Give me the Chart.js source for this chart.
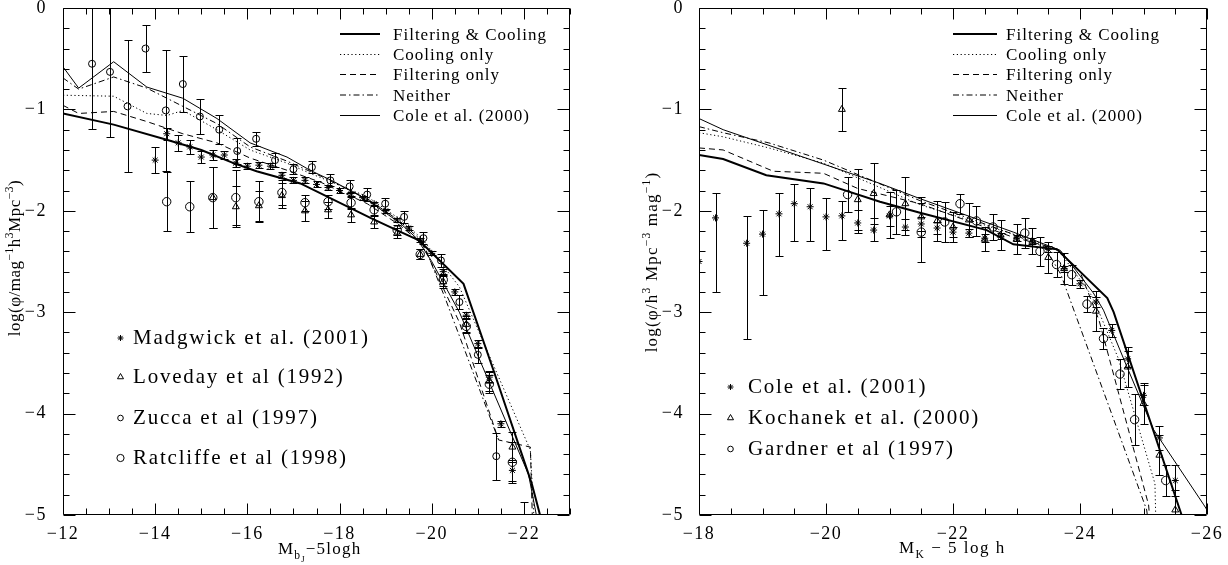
<!DOCTYPE html>
<html><head><meta charset="utf-8">
<script src="https://cdn.jsdelivr.net/npm/chart.js@4.4.1/dist/chart.umd.min.js"></script>
<style>
html,body{margin:0;padding:0;background:#fff;}
body{width:1228px;height:565px;overflow:hidden;position:relative;}
.panel{position:absolute;top:0;width:614px;height:565px;}
</style></head><body>
<div class="panel" style="left:0"><canvas id="cb"></canvas></div>
<div class="panel" style="left:614px"><canvas id="ck"></canvas></div>
<script>
// ================= DATA =================
// tick labels
const bXLabels = [-22, -20, -18, -16, -14, -12];
const kXLabels = [-26, -24, -22, -20, -18];
const yLabels  = [-5, -4, -3, -2, -1, 0];

// ---- Left panel (b_J band): model curves ----
const bFCX = [-12, -13.1, -14.25, -15.0, -15.7, -16.2, -17.15, -18.67, -19.24, -19.71, -19.9, -20.69, -21.36, -22.17, -22.35];
const bFCY = [-1.04, -1.15, -1.30, -1.40, -1.53, -1.61, -1.73, -2.07, -2.19, -2.29, -2.37, -2.72, -3.60, -4.69, -5.0];
const bCoolX = [-12, -13.1, -13.82, -14.26, -14.6, -15.34, -16.06, -16.86, -17.36, -18.6, -19.3, -19.8, -20.6, -22.14, -22.25];
const bCoolY = [-0.86, -0.87, -1.04, -1.06, -1.01, -1.20, -1.40, -1.53, -1.63, -1.86, -2.08, -2.28, -2.75, -4.36, -5.3];
const bFiltX = [-12, -12.34, -13.1, -13.82, -14.6, -15.34, -16.06, -16.86, -17.6, -18.6, -19.3, -19.8, -20.6, -21.45, -22.14, -22.2];
const bFiltY = [-0.96, -1.04, -1.02, -1.12, -1.24, -1.33, -1.48, -1.60, -1.72, -1.93, -2.14, -2.33, -3.10, -4.26, -4.33, -5.3];
const bNeitherX = [-12, -12.34, -13.1, -13.82, -14.6, -15.34, -16.06, -16.86, -17.6, -18.6, -19.3, -19.8, -20.29, -21.45];
const bNeitherY = [-0.69, -0.80, -0.68, -0.79, -0.97, -1.14, -1.37, -1.51, -1.66, -1.88, -2.10, -2.30, -2.86, -4.26];
const bColeX = [-12, -12.34, -13.1, -13.82, -14.6, -15.34, -16.06, -16.86, -17.36, -17.87, -18.59, -19.31, -19.67, -20.0, -20.6, -22.1, -22.27];
const bColeY = [-0.58, -0.79, -0.53, -0.78, -0.89, -1.09, -1.33, -1.47, -1.60, -1.71, -1.89, -2.12, -2.27, -2.50, -3.00, -4.60, -5.0];

// ---- Left panel: observational data ----
const bMadgwickX = [-14.0, -14.25, -14.5, -14.75, -15.0, -15.25, -15.5, -15.75, -16.0, -16.25, -16.5, -16.75, -17.0, -17.25, -17.5, -17.75, -18.0, -18.25, -18.5, -18.75, -19.0, -19.25, -19.5, -19.75, -20.0, -20.25, -20.5, -20.75, -21.0, -21.25, -21.5, -21.75, -22.0];
const bMadgwickY = [-1.50, -1.24, -1.33, -1.37, -1.47, -1.45, -1.45, -1.53, -1.56, -1.55, -1.56, -1.65, -1.70, -1.70, -1.74, -1.77, -1.80, -1.83, -1.87, -1.93, -2.00, -2.09, -2.17, -2.29, -2.42, -2.60, -2.80, -3.03, -3.31, -3.64, -4.10, -4.56, -5.30];
const bMadgwickErr = [0.13, 0.06, 0.08, 0.07, 0.06, 0.05, 0.04, 0.04, 0.03, 0.03, 0.03, 0.03, 0.03, 0.03, 0.03, 0.02, 0.02, 0.02, 0.02, 0.02, 0.02, 0.02, 0.02, 0.02, 0.02, 0.03, 0.03, 0.03, 0.04, 0.05, 0.03, 0.10, 0.43];
const bLovedayX = [-15.25, -15.75, -16.25, -16.75, -17.25, -17.75, -18.25, -18.75, -19.25, -19.75, -20.25, -20.75, -21.25, -21.75];
const bLovedayY = [-1.87, -1.96, -1.95, -1.85, -2.00, -1.99, -2.04, -2.11, -2.22, -2.43, -2.70, -3.12, -3.68, -4.33];
const bLovedayErr = [0.30, 0.20, 0.15, 0.12, 0.10, 0.08, 0.07, 0.06, 0.05, 0.05, 0.06, 0.08, 0.10, 0.15];
const bZuccaX = [-12.63, -13.02, -13.4, -13.79, -14.23, -14.6, -14.97, -15.39, -15.78, -16.19, -16.6, -17.0, -17.4, -17.8, -18.22, -18.6, -18.99, -19.4, -19.82, -20.2, -20.6, -21.0, -21.4];
const bZuccaY = [-0.55, -0.63, -0.97, -0.40, -1.01, -0.75, -1.07, -1.20, -1.41, -1.29, -1.50, -1.59, -1.57, -1.70, -1.76, -1.84, -1.93, -2.06, -2.27, -2.49, -2.90, -3.42, -4.42];
const bZuccaErr = [0.64, 0.64, 0.65, 0.23, 0.60, 0.28, 0.17, 0.14, 0.13, 0.07, 0.07, 0.05, 0.06, 0.06, 0.06, 0.06, 0.06, 0.06, 0.06, 0.06, 0.07, 0.08, 0.23];
const bRatcliffeX = [-14.25, -14.75, -15.25, -15.75, -16.25, -16.75, -17.25, -17.75, -18.25, -18.75, -19.25, -19.75, -20.25, -20.75, -21.25, -21.75];
const bRatcliffeY = [-1.91, -1.96, -1.87, -1.87, -1.91, -1.82, -1.92, -1.91, -1.92, -1.99, -2.19, -2.43, -2.68, -3.14, -3.71, -4.48];
const bRatcliffeErr = [0.29, 0.25, 0.30, 0.27, 0.20, 0.12, 0.08, 0.07, 0.06, 0.05, 0.05, 0.05, 0.06, 0.07, 0.09, 0.20];

// ---- Right panel (K band): model curves ----
const kFCX = [-18.0, -18.38, -19.06, -19.96, -20.85, -21.48, -22.53, -22.95, -23.64, -24.43, -24.53, -25.6];
const kFCY = [-1.45, -1.49, -1.65, -1.73, -1.91, -2.02, -2.19, -2.33, -2.38, -2.86, -3.0, -5.0];
const kCoolX = [-18.0, -18.38, -19.1, -19.96, -21.48, -22.9, -23.65, -24.2, -24.6, -25.18, -25.2];
const kCoolY = [-1.23, -1.27, -1.38, -1.53, -1.94, -2.22, -2.38, -2.85, -3.45, -4.69, -5.2];
const kFiltX = [-18.0, -18.38, -19.17, -19.96, -20.5, -21.48, -22.9, -23.6, -24.0, -24.3, -25.08, -25.12];
const kFiltY = [-1.38, -1.40, -1.61, -1.63, -1.78, -1.93, -2.25, -2.37, -2.60, -3.08, -4.90, -5.2];
const kNeitherX = [-18.0, -18.38, -19.1, -19.96, -21.48, -22.9, -23.45, -23.7, -25.05, -25.1];
const kNeitherY = [-1.17, -1.23, -1.33, -1.50, -1.90, -2.22, -2.36, -2.63, -4.95, -5.2];
const kColeX = [-18.0, -18.38, -20.85, -21.48, -22.95, -23.32, -23.69, -24.21, -24.37, -24.74, -25.16, -25.95, -26.05];
const kColeY = [-1.09, -1.20, -1.73, -1.88, -2.21, -2.30, -2.39, -2.81, -2.98, -3.54, -4.16, -4.90, -5.0];

// ---- Right panel: observational data ----
const kCole01X = [-18.0, -18.26, -18.75, -19.0, -19.26, -19.5, -19.75, -20.0, -20.25, -20.5, -20.75, -21.0, -21.25, -21.5, -21.75, -22.0, -22.25, -22.5, -22.75, -23.0, -23.25, -23.5, -23.75, -24.0, -24.25, -24.5, -24.75, -25.0, -25.25, -25.5];
const kCole01Y = [-2.50, -2.07, -2.32, -2.23, -2.03, -1.93, -1.96, -2.06, -2.05, -2.12, -2.19, -2.05, -2.16, -2.13, -2.17, -2.21, -2.22, -2.27, -2.25, -2.27, -2.30, -2.38, -2.57, -2.72, -2.90, -3.18, -3.46, -3.82, -4.24, -4.66];
const kCole01Up = [0, 0.25, 0.27, 0.24, 0.21, 0.19, 0.18, 0.19, 0.15, 0.13, 0.12, 0.10, 0.08, 0.07, 0.06, 0.05, 0.04, 0.04, 0.03, 0.03, 0.03, 0.03, 0.03, 0.04, 0.05, 0.06, 0.08, 0.10, 0.12, 0.15];
const kCole01Dn = [0, 0.73, 0.94, 0.60, 0.42, 0.37, 0.34, 0.33, 0.24, 0.10, 0.11, 0.10, 0.08, 0.07, 0.06, 0.05, 0.04, 0.04, 0.03, 0.03, 0.03, 0.03, 0.03, 0.04, 0.05, 0.06, 0.08, 0.10, 0.12, 0.15];
const kKochX = [-20.25, -20.5, -20.75, -21.0, -21.25, -21.5, -21.75, -22.0, -22.25, -22.5, -22.75, -23.0, -23.25, -23.5, -23.75, -24.25, -24.75, -25.0, -25.25, -25.5];
const kKochY = [-1.00, -1.89, -1.83, -2.04, -1.93, -2.06, -2.10, -2.16, -2.09, -2.28, -2.24, -2.28, -2.30, -2.46, -2.57, -2.99, -3.54, -3.90, -4.41, -4.95];
const kKochErr = [0.21, 0.30, 0.30, 0.23, 0.26, 0.20, 0.20, 0.15, 0.17, 0.12, 0.15, 0.15, 0.13, 0.15, 0.15, 0.20, 0.20, 0.20, 0.20, 0.20];
const kGardX = [-20.34, -21.11, -21.5, -21.87, -22.11, -22.37, -22.63, -23.13, -23.37, -23.63, -23.87, -24.11, -24.37, -24.63, -24.86, -25.35];
const kGardY = [-1.84, -2.01, -2.21, -2.11, -1.93, -2.10, -2.16, -2.22, -2.40, -2.53, -2.63, -2.92, -3.26, -3.61, -4.06, -4.66];
const kGardErr = [0.17, 0.22, 0.29, 0.20, 0.10, 0.15, 0.13, 0.15, 0.14, 0.12, 0.10, 0.08, 0.10, 0.15, 0.25, 0.15];

const modelNames = ['Filtering & Cooling', 'Cooling only', 'Filtering only', 'Neither', 'Cole et al. (2000)'];
const modelKeys  = ['fc', 'cool', 'filt', 'neither', 'cole'];

// ================= STYLES =================
const FONT = "'Liberation Serif','Times New Roman',serif";
const LINE_STYLES = {
  fc: {w: 2, dash: []},
  cool: {w: 1, dash: [1.2, 2.6]},
  filt: {w: 1, dash: [6, 4]},
  neither: {w: 1, dash: [6, 3, 1.5, 3]},
  cole: {w: 1, dash: []}
};
const POINT_STYLES = {
  star: {shape: 'star', r: 3.5, leg: 3},
  tri: {shape: 'triangle', r: 4, leg: 3.5},
  osmall: {shape: 'circle', r: 3.5, leg: 2.8},
  obig: {shape: 'circle', r: 4.2, leg: 3.6}
};

const fmt = v => Math.abs(v) < 1e-9 ? '0' : '\u2212' + Math.abs(v);
const pts = (xs, ys) => xs.map((x, i) => ({x: x, y: ys[i]}));
const has = (arr, v) => arr.some(a => Math.abs(a - v) < 1e-6);

function drawRich(ctx, parts, x, y, size, spacing) {
  const spec = {n: [1, 0], sup: [0.68, -0.42], sub: [0.68, 0.28], sub2: [0.5, 0.48]};
  ctx.letterSpacing = spacing + 'px';
  ctx.textAlign = 'left'; ctx.textBaseline = 'alphabetic';
  const ws = parts.map(p => { ctx.font = (size * spec[p[1]][0]).toFixed(1) + 'px ' + FONT; return ctx.measureText(p[0]).width; });
  return {ws: ws, total: ws.reduce((a, b) => a + b, 0), draw: function (x0) {
    let cx = x0;
    parts.forEach((p, i) => { ctx.font = (size * spec[p[1]][0]).toFixed(1) + 'px ' + FONT; ctx.fillText(p[0], cx, y + spec[p[1]][1] * size); cx += ws[i]; });
  }};
}

function drawSym(ctx, key, r, x, y) {
  ctx.save();
  ctx.strokeStyle = '#000'; ctx.fillStyle = 'rgba(0,0,0,0)'; ctx.lineWidth = 1; ctx.setLineDash([]);
  Chart.helpers.drawPoint(ctx, {pointStyle: POINT_STYLES[key].shape, radius: r, borderWidth: 1, rotation: 0}, x, y);
  ctx.restore();
}

function makePanel(id, cfg) {
  const datasets = [];
  cfg.lines.forEach(l => {
    const st = LINE_STYLES[l.style];
    datasets.push({data: pts(l.x, l.y), showLine: true, borderColor: '#000', borderWidth: st.w, borderDash: st.dash,
      pointRadius: 0, pointHoverRadius: 0, fill: false, tension: 0, order: 2});
  });
  cfg.points.forEach(p => {
    const st = POINT_STYLES[p.style];
    datasets.push({data: pts(p.x, p.y), showLine: false, pointStyle: st.shape, pointRadius: st.r, pointBorderWidth: 1,
      borderColor: '#000', backgroundColor: 'rgba(0,0,0,0)', errUp: p.up, errDn: p.dn, order: 1});
  });

  const deco = {
    id: 'deco' + id,
    beforeDraw(chart) { chart.ctx.letterSpacing = '1.5px'; },
    beforeDatasetsDraw(chart) {
      const ctx = chart.ctx, a = chart.chartArea, xs = chart.scales.x, ys = chart.scales.y;
      ctx.save();
      ctx.beginPath(); ctx.rect(a.left, a.top, a.right - a.left, a.bottom - a.top); ctx.clip();
      ctx.strokeStyle = '#000'; ctx.lineWidth = 1; ctx.setLineDash([]);
      ctx.beginPath();
      chart.data.datasets.forEach(ds => {
        if (!ds.errUp) return;
        ds.data.forEach((p, i) => {
          const up = ds.errUp[i], dn = ds.errDn[i];
          if (!(up > 0 || dn > 0)) return;
          const px = Math.round(xs.getPixelForValue(p.x)) + 0.5;
          const yt = Math.round(ys.getPixelForValue(p.y + up)) + 0.5;
          const yb = Math.round(ys.getPixelForValue(p.y - dn)) + 0.5;
          ctx.moveTo(px, yt); ctx.lineTo(px, yb);
          ctx.moveTo(px - 4, yt); ctx.lineTo(px + 4, yt);
          ctx.moveTo(px - 4, yb); ctx.lineTo(px + 4, yb);
        });
      });
      ctx.stroke();
      ctx.restore();
    },
    afterDraw(chart) {
      const ctx = chart.ctx, a = chart.chartArea, xs = chart.scales.x, ys = chart.scales.y;
      ctx.save();
      ctx.strokeStyle = '#000'; ctx.fillStyle = '#000'; ctx.lineWidth = 1; ctx.setLineDash([]);
      const L = Math.round(a.left) + 0.5, R = Math.round(a.right) - 0.5, T = Math.round(a.top) + 0.5, B = Math.round(a.bottom) - 0.5;
      ctx.beginPath();
      ctx.rect(L, T, R - L, B - T);
      xs.ticks.forEach(t => {
        const px = Math.round(xs.getPixelForValue(t.value)) + 0.5;
        const len = has(cfg.xLabels, t.value) ? 11 : 6;
        ctx.moveTo(px, B); ctx.lineTo(px, B - len);
        ctx.moveTo(px, T); ctx.lineTo(px, T + len);
      });
      ys.ticks.forEach(t => {
        const py = Math.round(ys.getPixelForValue(t.value)) + 0.5;
        const len = has(yLabels, t.value) ? 12 : 6;
        ctx.moveTo(L, py); ctx.lineTo(L + len, py);
        ctx.moveTo(R, py); ctx.lineTo(R - len, py);
      });
      ctx.stroke();

      // model legend (top right)
      const lg = cfg.lineLegend;
      modelKeys.forEach((k, i) => {
        const st = LINE_STYLES[k];
        const yb = lg.rows[i];
        ctx.lineWidth = st.w; ctx.setLineDash(st.dash);
        ctx.beginPath(); ctx.moveTo(lg.x0, yb - 5.5); ctx.lineTo(lg.x1, yb - 5.5); ctx.stroke();
        ctx.setLineDash([]);
        const t = drawRich(ctx, [[modelNames[i], 'n']], lg.tx, yb, lg.size, lg.sp);
        t.draw(lg.tx);
      });

      // data legend (bottom left)
      const dl = cfg.dataLegend;
      dl.items.forEach((it, i) => {
        const yb = dl.rows[i];
        drawSym(ctx, it.style, POINT_STYLES[it.style].leg, dl.sx, yb - 6);
        ctx.fillStyle = '#000';
        const t = drawRich(ctx, [[it.name, 'n']], dl.tx, yb, dl.size, dl.sp);
        t.draw(dl.tx);
      });

      // x-axis title
      const xt = cfg.xTitle;
      const tx = drawRich(ctx, xt.parts, xt.x, xt.y, xt.size, xt.sp);
      tx.draw(xt.x);

      // y-axis title (rotated)
      const yt = cfg.yTitle;
      ctx.save();
      ctx.translate(yt.x, yt.y); ctx.rotate(-Math.PI / 2);
      const ty = drawRich(ctx, yt.parts, 0, 0, yt.size, yt.sp);
      ty.draw(-ty.total / 2);
      ctx.restore();
      ctx.restore();
    }
  };

  return new Chart(document.getElementById(id), {
    type: 'scatter',
    data: {datasets: datasets},
    plugins: [deco],
    options: {
      responsive: true, maintainAspectRatio: false, animation: false, devicePixelRatio: 1, events: [],
      layout: {padding: {left: 0, top: 8, right: cfg.padRight, bottom: 20}},
      plugins: {legend: {display: false}, tooltip: {enabled: false}},
      scales: {
        x: {type: 'linear', reverse: true, min: cfg.xMin, max: cfg.xMax,
          grid: {display: false}, border: {display: false},
          ticks: {stepSize: 0.5, maxTicksLimit: 1000, autoSkip: false, maxRotation: 0, minRotation: 0, padding: 0,
            color: '#000', font: {family: FONT, size: 18},
            callback: v => has(cfg.xLabels, v) ? fmt(v) : ''},
          afterFit: s => { s.height = 30; s.paddingLeft = 0; s.paddingRight = 0; }},
        y: {type: 'linear', min: -5, max: 0,
          grid: {display: false}, border: {display: false},
          ticks: {stepSize: 0.2, maxTicksLimit: 1000, autoSkip: false, padding: cfg.yPad,
            color: '#000', font: {family: FONT, size: 18},
            callback: v => has(yLabels, v) ? fmt(v) : ''},
          afterFit: s => { s.width = cfg.yWidth; s.paddingTop = 0; s.paddingBottom = 0; }}
      }
    }
  });
}

makePanel('cb', {
  xMin: -23, xMax: -12, xLabels: bXLabels, yWidth: 63, padRight: 44, yPad: 8,
  lines: [
    {x: bColeX, y: bColeY, style: 'cole'},
    {x: bNeitherX, y: bNeitherY, style: 'neither'},
    {x: bFiltX, y: bFiltY, style: 'filt'},
    {x: bCoolX, y: bCoolY, style: 'cool'},
    {x: bFCX, y: bFCY, style: 'fc'}
  ],
  points: [
    {x: bMadgwickX, y: bMadgwickY, up: bMadgwickErr, dn: bMadgwickErr, style: 'star'},
    {x: bLovedayX, y: bLovedayY, up: bLovedayErr, dn: bLovedayErr, style: 'tri'},
    {x: bZuccaX, y: bZuccaY, up: bZuccaErr, dn: bZuccaErr, style: 'osmall'},
    {x: bRatcliffeX, y: bRatcliffeY, up: bRatcliffeErr, dn: bRatcliffeErr, style: 'obig'}
  ],
  lineLegend: {x0: 340, x1: 380, tx: 393, rows: [39.5, 60, 80, 100.5, 121], size: 17, sp: 1},
  dataLegend: {sx: 120.5, tx: 133, rows: [344, 383, 424, 464], size: 21, sp: 1.8,
    items: [{style: 'star', name: 'Madgwick et al. (2001)'}, {style: 'tri', name: 'Loveday et al (1992)'},
            {style: 'osmall', name: 'Zucca et al (1997)'}, {style: 'obig', name: 'Ratcliffe et al (1998)'}]},
  xTitle: {x: 278, y: 554, size: 17, sp: 1.2, parts: [['M', 'n'], ['b', 'sub'], ['J', 'sub2'], ['\u22125logh', 'n']]},
  yTitle: {x: 20, y: 258, size: 17, sp: 0.5, parts: [['log(\u03c6/mag', 'n'], ['\u22121', 'sup'], ['h', 'n'], ['3', 'sup'], ['Mpc', 'n'], ['\u22123', 'sup'], [')', 'n']]}
});

makePanel('ck', {
  xMin: -26, xMax: -18, xLabels: kXLabels, yWidth: 85, padRight: 21, yPad: 7,
  lines: [
    {x: kColeX, y: kColeY, style: 'cole'},
    {x: kNeitherX, y: kNeitherY, style: 'neither'},
    {x: kFiltX, y: kFiltY, style: 'filt'},
    {x: kCoolX, y: kCoolY, style: 'cool'},
    {x: kFCX, y: kFCY, style: 'fc'}
  ],
  points: [
    {x: kCole01X, y: kCole01Y, up: kCole01Up, dn: kCole01Dn, style: 'star'},
    {x: kKochX, y: kKochY, up: kKochErr, dn: kKochErr, style: 'tri'},
    {x: kGardX, y: kGardY, up: kGardErr, dn: kGardErr, style: 'obig'}
  ],
  lineLegend: {x0: 339, x1: 383, tx: 392, rows: [39.5, 60, 80, 100.5, 121], size: 17, sp: 1},
  dataLegend: {sx: 116.5, tx: 134, rows: [393, 424, 455], size: 21, sp: 1.8,
    items: [{style: 'star', name: 'Cole et al. (2001)'}, {style: 'tri', name: 'Kochanek et al. (2000)'},
            {style: 'osmall', name: 'Gardner et al (1997)'}]},
  xTitle: {x: 285, y: 553, size: 17, sp: 1.5, parts: [['M', 'n'], ['K', 'sub'], [' \u2212 5 log h', 'n']]},
  yTitle: {x: 43, y: 262, size: 17, sp: 1.2, parts: [['log(\u03c6/h', 'n'], ['3', 'sup'], [' Mpc', 'n'], ['\u22123', 'sup'], [' mag', 'n'], ['\u22121', 'sup'], [')', 'n']]}
});
</script>
</body></html>
